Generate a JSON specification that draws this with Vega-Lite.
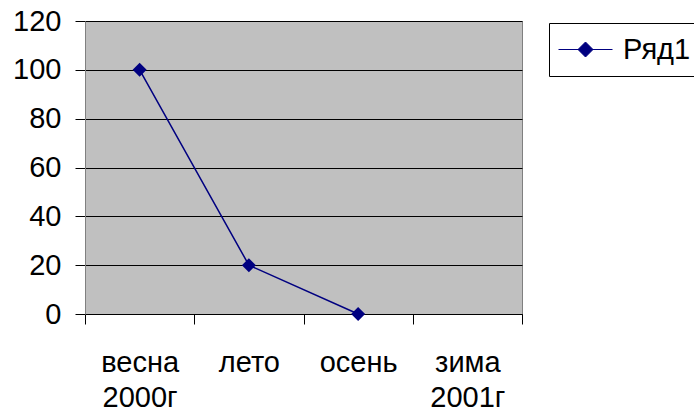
{
  "$schema": "https://vega.github.io/schema/vega-lite/v6.json",
  "autosize": "none",
  "width": 437,
  "height": 293,
  "padding": {"left": 85, "top": 21, "right": 172, "bottom": 98},
  "background": "white",
  "config": {
    "font": "Liberation Sans",
    "view": {"fill": "#C0C0C0", "stroke": "#808080", "strokeWidth": 1}
  },
  "data": {
    "values": [
      {"season": "весна 2000г", "value": 100, "series": "Ряд1"},
      {"season": "лето", "value": 20, "series": "Ряд1"},
      {"season": "осень", "value": 0, "series": "Ряд1"}
    ]
  },
  "encoding": {
    "x": {
      "field": "season",
      "type": "nominal",
      "sort": null,
      "scale": {"domain": ["весна 2000г", "лето", "осень", "зима 2001г"], "paddingInner": 0, "paddingOuter": 0},
      "axis": {
        "title": null,
        "labelAngle": 0,
        "labelExpr": "split(datum.label, ' ')",
        "labelLineHeight": 35,
        "labelFontSize": 29,
        "labelColor": "#000000",
        "labelPadding": 24,
        "tickBand": "extent",
        "tickSize": 10,
        "tickColor": "#000000",
        "domainColor": "#000000",
        "grid": false
      }
    },
    "y": {
      "field": "value",
      "type": "quantitative",
      "scale": {"domain": [0, 120], "nice": false},
      "axis": {
        "title": null,
        "values": [0, 20, 40, 60, 80, 100, 120],
        "labelFontSize": 29,
        "labelColor": "#000000",
        "labelPadding": 14,
        "tickSize": 10,
        "tickColor": "#000000",
        "domainColor": "#808080",
        "grid": true,
        "gridColor": "#000000",
        "gridOpacity": 1,
        "gridWidth": 1
      }
    },
    "color": {
      "field": "series",
      "type": "nominal",
      "scale": {"range": ["#000080"]},
      "legend": {
        "title": null,
        "orient": "none",
        "legendX": 464,
        "legendY": 2,
        "strokeColor": "#000000",
        "fillColor": "#FFFFFF",
        "padding": 11,
        "symbolType": "M-1.8,0H1.8M0,-0.5L0.5,0L0,0.5L-0.5,0Z",
        "symbolSize": 900,
        "symbolOffset": 10,
        "symbolStrokeColor": "#000080",
        "symbolFillColor": "#000080",
        "symbolStrokeWidth": 1,
        "symbolOpacity": 1,
        "labelFontSize": 29,
        "labelColor": "#000000",
        "labelOffset": 22,
        "labelLimit": 300
      }
    }
  },
  "layer": [
    {"mark": {"type": "line", "strokeWidth": 1.5}},
    {"mark": {"type": "point", "shape": "diamond", "filled": true, "size": 196, "opacity": 1}}
  ]
}
